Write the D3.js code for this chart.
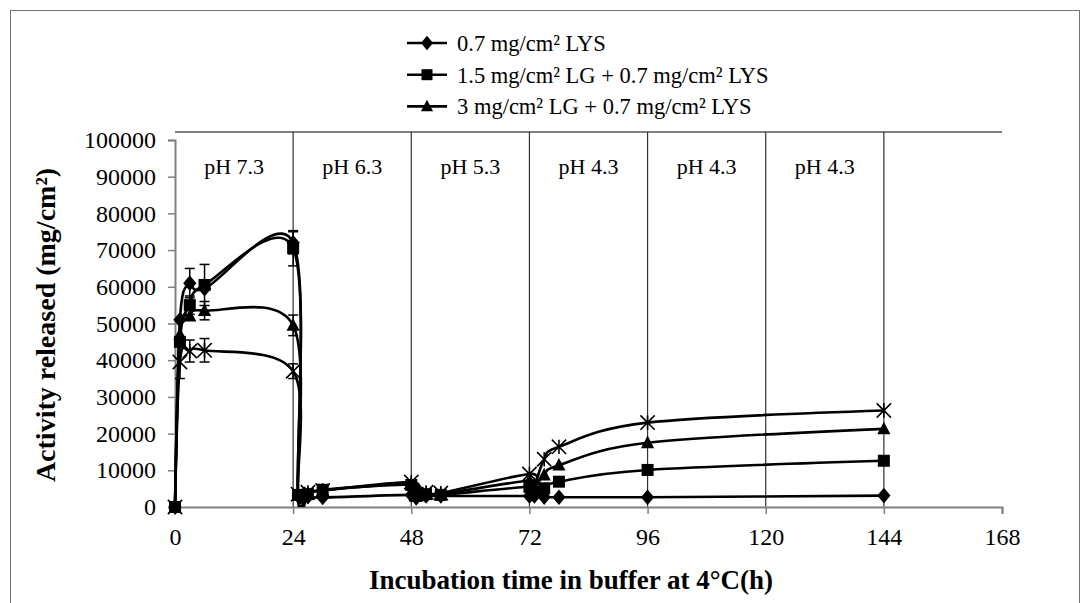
<!DOCTYPE html>
<html>
<head>
<meta charset="utf-8">
<script src="https://cdn.jsdelivr.net/npm/d3@7/dist/d3.min.js"></script>
<style>
  html, body { margin: 0; padding: 0; background: #fff; }
  svg text { font-family: "Liberation Serif", "Times New Roman", serif; fill: #000; }
</style>
</head>
<body>
<svg id="chart" width="1091" height="603"></svg>
<script>
// Sampling times (h) in buffer at 4 °C
const times = [0, 1, 3, 6, 24, 25, 27, 30, 48, 49, 51, 54, 72, 73, 75, 78, 96, 144];

// Activity released (mg/cm²) per formulation
const lys07     = [0, 51000, 61000, 59500, 72000, 3000, 2800, 2600, 3300, 2500, 3000, 3000, 3000, 3000, 2700, 2650, 2650, 3100];
const lg15lys07 = [0, 45000, 55000, 60500, 70500, 3300, 3500, 4700, 6000, 3000, 3500, 3300, 5500, 4000, 5100, 6900, 10100, 12600];
const lg3lys07  = [0, 47000, 52000, 53500, 49500, 3200, 3700, 4500, 6300, 3200, 3600, 3500, 7200, 5500, 8700, 11400, 17500, 21300];
const starSeries = [0, 39500, 42500, 42700, 37000, 3500, 4000, 4500, 6800, 3500, 4000, 3800, 9000, 6000, 13000, 16400, 23000, 26300];

// Standard deviations (0 = no bar drawn)
const lys07Err     = [0, 0, 4000, 0, 3000, 0, 0, 0, 0, 0, 0, 0, 0, 0, 0, 0, 0, 0];
const lg15lys07Err = [0, 0, 2500, 5600, 4800, 0, 0, 0, 0, 0, 0, 0, 0, 0, 0, 0, 0, 0];
const lg3lys07Err  = [0, 0, 0, 2500, 2800, 0, 0, 0, 0, 0, 0, 0, 0, 0, 0, 0, 0, 0];
const starErr      = [0, 4500, 3000, 3200, 2000, 0, 0, 0, 0, 0, 0, 0, 0, 0, 0, 0, 0, 0];

const legendLabels = ["0.7 mg/cm² LYS", "1.5 mg/cm² LG + 0.7 mg/cm² LYS", "3 mg/cm² LG + 0.7 mg/cm² LYS"];
const phaseLabels = ["pH 7.3", "pH 6.3", "pH 5.3", "pH 4.3", "pH 4.3", "pH 4.3"];
const xTicks = [0, 24, 48, 72, 96, 120, 144, 168];
const yTicks = [0, 10000, 20000, 30000, 40000, 50000, 60000, 70000, 80000, 90000, 100000];

const series = [
  { values: lys07, err: lys07Err, marker: "diamond" },
  { values: lg15lys07, err: lg15lys07Err, marker: "square" },
  { values: lg3lys07, err: lg3lys07Err, marker: "triangle" },
  { values: starSeries, err: starErr, marker: "star" }
];

const svg = d3.select("#chart");

// outer chart frame
svg.append("rect")
  .attr("x", 10.5).attr("y", 10.5).attr("width", 1069).attr("height", 600)
  .attr("fill", "none").attr("stroke", "#777").attr("stroke-width", 1);

const x = d3.scaleLinear().domain([0, 168]).range([175, 1002]);
const y = d3.scaleLinear().domain([0, 100000]).range([507, 140]);

const plotTop = 132;

// keep smoothed curves inside the plotting area
svg.append("defs").append("clipPath").attr("id", "plotClip")
  .append("rect").attr("x", 0).attr("y", plotTop).attr("width", 1091).attr("height", y(0) - plotTop);

// phase separators and top border
svg.append("line")
  .attr("x1", x(0)).attr("x2", x(168)).attr("y1", plotTop).attr("y2", plotTop)
  .attr("stroke", "#808080").attr("stroke-width", 2);
svg.selectAll(".sep").data(xTicks.slice(1, 7)).enter().append("line")
  .attr("x1", d => x(d)).attr("x2", d => x(d))
  .attr("y1", plotTop).attr("y2", y(0))
  .attr("stroke", "#333").attr("stroke-width", 1.2);

// phase labels
svg.selectAll(".ph").data(phaseLabels).enter().append("text")
  .attr("x", (d, i) => x(i * 24 + 12))
  .attr("y", 166)
  .attr("dy", "0.35em")
  .attr("text-anchor", "middle")
  .style("font-size", "22px")
  .text(d => d);

// axes
const xAxis = svg.append("g").attr("transform", `translate(0,${y(0)})`)
  .call(d3.axisBottom(x).tickValues(xTicks).tickSize(7).tickPadding(14).tickFormat(d3.format("d")));
const yAxis = svg.append("g").attr("transform", `translate(${x(0)},0)`)
  .call(d3.axisLeft(y).tickValues(yTicks).tickSize(7).tickPadding(12).tickFormat(d3.format("d")));
[xAxis, yAxis].forEach(a => {
  a.select(".domain").attr("stroke", "#808080").attr("stroke-width", 2);
  a.selectAll(".tick line").attr("stroke", "#808080").attr("stroke-width", 1.5);
  a.selectAll("text").style("font-size", "24px").style("font-family", "Liberation Serif, Times New Roman, serif");
});

// axis titles
svg.append("text")
  .attr("x", 571).attr("y", 580).attr("dy", "0.35em")
  .attr("text-anchor", "middle")
  .style("font-size", "27px").style("font-weight", "bold")
  .text("Incubation time in buffer at 4°C(h)");
svg.append("text")
  .attr("transform", "translate(45,325) rotate(-90)")
  .attr("dy", "0.35em")
  .attr("text-anchor", "middle")
  .style("font-size", "28px").style("font-weight", "bold")
  .text("Activity released (mg/cm²)");

// marker shapes
function drawMarker(g, type, cx, cy, s) {
  if (type === "diamond") {
    g.append("path").attr("d", `M${cx},${cy - s * 0.65}L${cx + s * 0.55},${cy}L${cx},${cy + s * 0.65}L${cx - s * 0.55},${cy}Z`).attr("fill", "#000");
  } else if (type === "square") {
    g.append("rect").attr("x", cx - s / 2).attr("y", cy - s / 2).attr("width", s).attr("height", s).attr("fill", "#000");
  } else if (type === "triangle") {
    g.append("path").attr("d", `M${cx},${cy - s * 0.6}L${cx + s * 0.55},${cy + s * 0.45}L${cx - s * 0.55},${cy + s * 0.45}Z`).attr("fill", "#000");
  } else {
    const h = s * 0.55;
    g.append("path")
      .attr("d", `M${cx - h},${cy - h}L${cx + h},${cy + h}M${cx - h},${cy + h}L${cx + h},${cy - h}M${cx},${cy - h}L${cx},${cy + h}`)
      .attr("stroke", "#000").attr("stroke-width", 1.6).attr("fill", "none");
  }
}

// smoothed lines (uniform Catmull-Rom)
const line = d3.line()
  .x(d => x(d[0])).y(d => y(d[1]))
  .curve(d3.curveCatmullRom.alpha(0));

const curves = svg.append("g").attr("clip-path", "url(#plotClip)");
series.forEach(s => {
  const pts = times.map((t, i) => [t, s.values[i]]);
  curves.append("path").datum(pts)
    .attr("d", line)
    .attr("fill", "none").attr("stroke", "#000").attr("stroke-width", 2.6);
});

const plot = svg.append("g");

// error bars
series.forEach(s => {
  times.forEach((t, i) => {
    const e = s.err[i];
    if (!e) return;
    const cx = x(t), y1 = y(s.values[i] + e), y2 = y(s.values[i] - e);
    plot.append("line").attr("x1", cx).attr("x2", cx).attr("y1", y1).attr("y2", y2)
      .attr("stroke", "#000").attr("stroke-width", 1.5);
    [y1, y2].forEach(yy => plot.append("line")
      .attr("x1", cx - 5).attr("x2", cx + 5).attr("y1", yy).attr("y2", yy)
      .attr("stroke", "#000").attr("stroke-width", 1.5));
  });
});

// markers
series.forEach(s => {
  times.forEach((t, i) => drawMarker(plot, s.marker, x(t), y(s.values[i]), s.marker === "star" ? 13 : 12));
});

// legend
const legend = svg.append("g");
legendLabels.forEach((lab, i) => {
  const ly = 43 + i * 31.7;
  legend.append("line").attr("x1", 407).attr("x2", 447).attr("y1", ly).attr("y2", ly)
    .attr("stroke", "#000").attr("stroke-width", 2.6);
  drawMarker(legend, series[i].marker, 427, ly, 11);
  legend.append("text").attr("x", 457).attr("y", ly).attr("dy", "0.35em")
    .style("font-size", "22.5px").text(lab);
});
</script>
</body>
</html>
